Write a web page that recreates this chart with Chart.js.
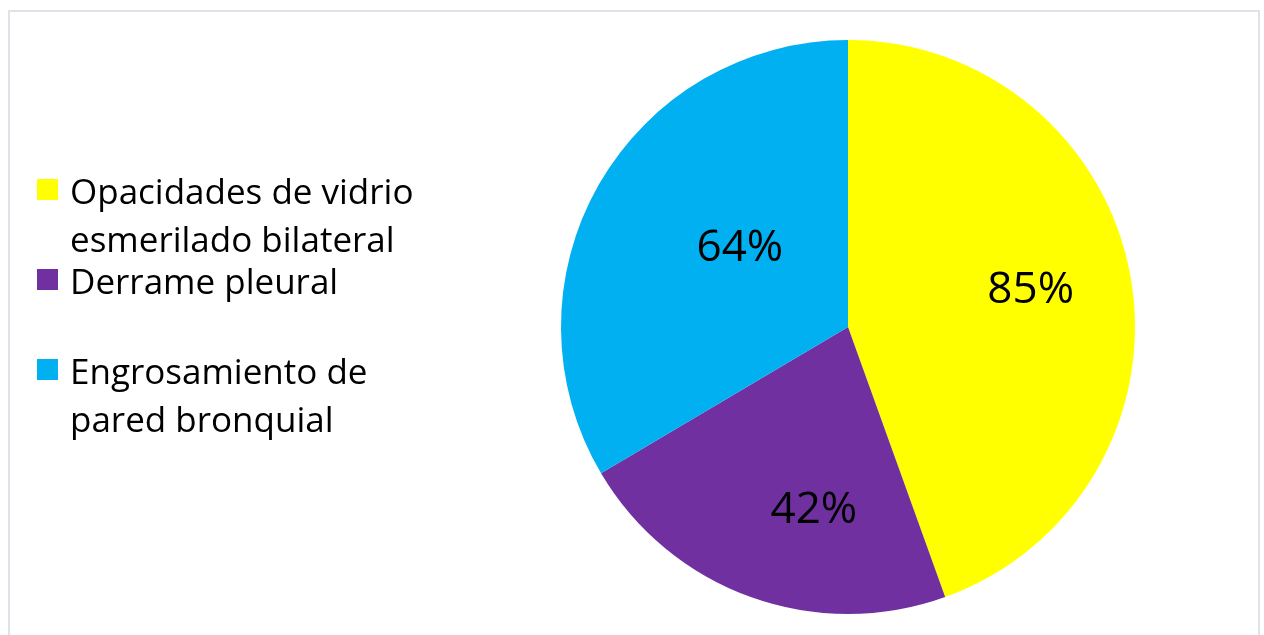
<!DOCTYPE html>
<html>
<head>
<meta charset="utf-8">
<script src="https://cdn.jsdelivr.net/npm/chart.js@4.4.1/dist/chart.umd.min.js"></script>
<style>
  html, body { margin: 0; padding: 0; background: #ffffff; }
  body { width: 1264px; height: 635px; position: relative; overflow: hidden; }
  #frame {
    position: absolute; left: 8px; top: 10px; width: 1252px; height: 640px;
    border: 2px solid #dee3ea; box-sizing: border-box;
  }
  #wrap { position: absolute; left: 0; top: 0; width: 1264px; height: 635px; }
  #legend {
    position: absolute; left: 37px; top: 167px; width: 400px;
    font-family: "Open Sans", Lato, sans-serif; font-size: 35px; line-height: 48px; color: #000;
  }
  .item { position: relative; padding-left: 33px; }
  .item .box { position: absolute; left: 0; top: 12px; width: 21px; height: 21px; }
  .item:nth-child(2) { margin-top: -6px; }
  .item:nth-child(3) { margin-top: 42px; }
</style>
</head>
<body>
<div id="frame"></div>
<div id="wrap"><canvas id="chart" width="1264" height="635"></canvas></div>
<div id="legend"></div>
<script>
// Hallazgos tomográficos
const categories = [
  'Opacidades de vidrio esmerilado bilateral',
  'Derrame pleural',
  'Engrosamiento de pared bronquial'
];
const percentages = [85, 42, 64];
const sliceColors = ['#FFFF00', '#7030A0', '#00B0F0'];

// label placement inside each slice: fraction of radius and angular nudge (degrees)
const labelRadius = [0.65, 0.647, 0.468];
const labelAngleShift = [-1.8, -9.2, 6.7];

// percentage labels drawn on the slices
const sliceLabels = {
  id: 'sliceLabels',
  afterDatasetsDraw(chart) {
    const ctx = chart.ctx;
    const meta = chart.getDatasetMeta(0);
    ctx.save();
    ctx.font = '44px "Open Sans", Lato, sans-serif';
    ctx.fillStyle = '#000';
    ctx.textAlign = 'center';
    ctx.textBaseline = 'middle';
    meta.data.forEach((arc, i) => {
      const p = arc.getProps(['x', 'y', 'startAngle', 'endAngle', 'outerRadius'], true);
      const mid = (p.startAngle + p.endAngle) / 2 + labelAngleShift[i] * Math.PI / 180;
      const r = p.outerRadius * labelRadius[i];
      ctx.fillText(percentages[i] + '%', p.x + Math.cos(mid) * r, p.y + Math.sin(mid) * r + 1);
    });
    ctx.restore();
  }
};

new Chart(document.getElementById('chart'), {
  type: 'pie',
  data: {
    labels: categories,
    datasets: [{
      data: percentages,
      backgroundColor: sliceColors,
      borderWidth: 0,
      hoverOffset: 0
    }]
  },
  options: {
    responsive: false,
    animation: false,
    layout: { padding: { left: 561, right: 129, top: 40, bottom: 21 } },
    plugins: {
      legend: { display: false },
      tooltip: { enabled: false }
    }
  },
  plugins: [sliceLabels]
});

// legend built from the same categories and colours
const legend = document.getElementById('legend');
categories.forEach((name, i) => {
  const item = document.createElement('div');
  item.className = 'item';
  const box = document.createElement('span');
  box.className = 'box';
  box.style.background = sliceColors[i];
  item.appendChild(box);
  item.appendChild(document.createTextNode(name));
  legend.appendChild(item);
});
</script>
</body>
</html>
